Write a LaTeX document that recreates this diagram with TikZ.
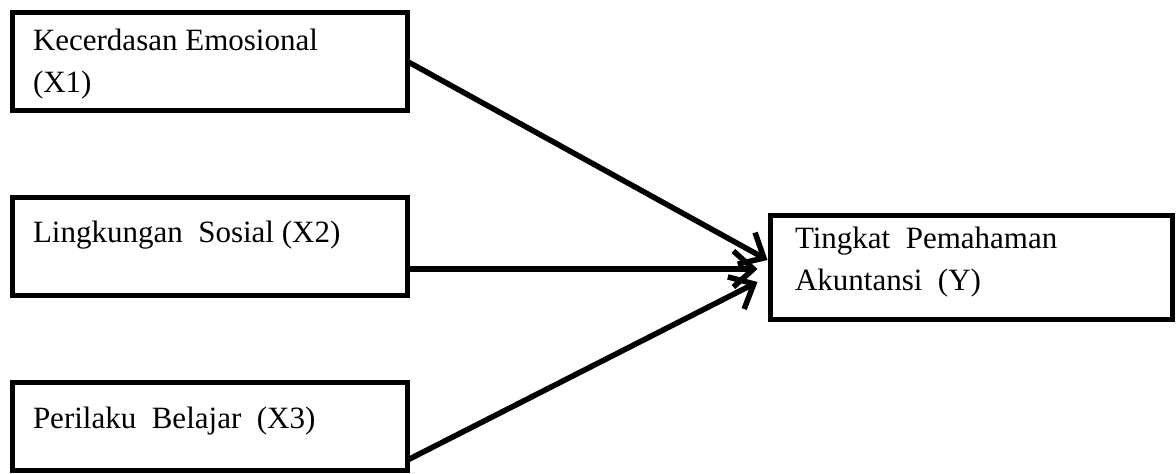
\documentclass[tikz,border=0pt]{standalone}
\usepackage{fontspec}
\setmainfont{Liberation Serif}
\usetikzlibrary{arrows.meta,calc}

\tikzset{
  box/.style={draw=black, line width=5pt, fill=white, rectangle, inner sep=0pt, outer sep=0pt},
  lbl/.style={anchor=base west, inner sep=0pt, outer sep=0pt, align=left,
              font=\fontsize{31}{42}\selectfont},
  link/.style={line width=5.5pt, -{Straight Barb[length=20pt,width=36pt]},
               preaction={draw=gray!55, transform canvas={shift={(1.5,2)}}}},
}

\begin{document}
\begin{tikzpicture}[x=1pt,y=-1pt]
  \useasboundingbox (0,0) rectangle (1176,474);

  % independent variables
  \node[box, minimum width=395, minimum height=98] (x1) at (210,61.5) {};
  \node[box, minimum width=395, minimum height=98] (x2) at (210,246.5) {};
  \node[box, minimum width=395, minimum height=88] (x3) at (210,426.5) {};
  % dependent variable
  \node[box, minimum width=402, minimum height=104] (y) at (971.5,267) {};

  % labels (base anchor of a two-line label sits on its last line)
  \node[lbl] (tx1) at (33,92) {Kecerdasan Emosional\\(X1)};
  \node[lbl] (tx2) at (33,242) {Lingkungan\ \ Sosial (X2)};
  \node[lbl] (tx3) at (33,428) {Perilaku\ \ Belajar\ \ (X3)};
  \node[lbl] (ty) at (795,290) {Tingkat\ \ Pemahaman\\Akuntansi\ \ (Y)};

  % arrow ends
  \coordinate (s2) at ($(x2.east)+(0,22.5)$);
  \coordinate (s3) at ($(x3.east)+(0,33.5)$);
  \coordinate (e1) at ($(y.west)+(-3,-7)$);
  \coordinate (e2) at ($(y.west)+(-13,2)$);
  \coordinate (e3) at ($(y.west)+(-13,15)$);

  \draw[link] (x1.east) -- (e1);
  \draw[link] (s2) -- (e2);
  \draw[link] (s3) -- (e3);
\end{tikzpicture}
\end{document}
